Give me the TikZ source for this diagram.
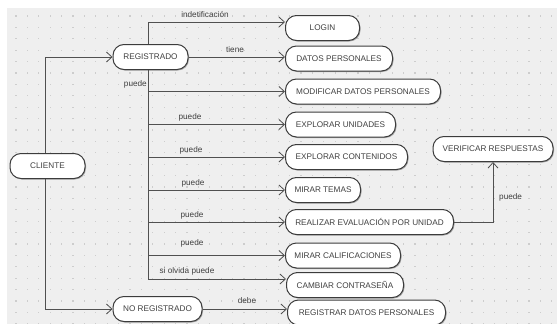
\documentclass[tikz,border=0pt]{standalone}
\usepackage{fontspec}
\setmainfont{Liberation Sans}
\usetikzlibrary{arrows.meta,shadows}
\definecolor{bgc}{HTML}{EFEFEF}
\definecolor{dotc}{HTML}{CDCDCD}
\definecolor{linec}{HTML}{505050}
\definecolor{boxc}{HTML}{3C3C3C}
\definecolor{txtc}{HTML}{404040}
\newcommand{\fs}{\fontsize{8.2}{9.5}\selectfont}
\tikzset{
  st/.style={draw=boxc, line width=1pt, fill=white, rounded corners=11pt,
    minimum height=25pt, inner xsep=6pt, inner ysep=0pt, font=\fs, text=txtc,
    drop shadow={shadow xshift=1pt, shadow yshift=-1pt, fill=black!45, opacity=0.7}},
  lbl/.style={font=\fs, text=txtc, inner sep=0pt},
  arr/.style={draw=linec, line width=0.8pt, -{Straight Barb[length=5.5pt,width=10pt,line width=0.8pt]}},
  ln/.style={draw=linec, line width=0.8pt}
}
\begin{document}
\begin{tikzpicture}[x=1pt,y=-1pt]
\useasboundingbox (0,0) rectangle (557,324);
\fill[white] (0,0) rectangle (557,324);
\fill[bgc] (7,8) rectangle (557,324);
\foreach \i in {0,...,47}{
  \foreach \j in {0,...,27}{
    \fill[dotc] ({16+11.4*\i-0.6},{16+11.4*\j-0.6}) rectangle ++(1.2,1.2);
  }
}
% nodes
\node[st, minimum width=75pt] (cli) at (47.5,166) {CLIENTE};
\node[st, minimum width=75pt] (reg) at (150.5,57) {REGISTRADO};
\node[st, minimum width=89pt] (noreg) at (157.5,309) {NO REGISTRADO};
\node[st, minimum width=74pt, anchor=west] (login) at (285,28) {LOGIN};
\node[st, minimum width=107pt, anchor=west] (datos) at (285,58.5) {DATOS PERSONALES};
\node[st, minimum width=155pt, anchor=west] (modif) at (285,91.5) {MODIFICAR DATOS PERSONALES};
\node[st, minimum width=110pt, anchor=west] (expu) at (285,124.5) {EXPLORAR UNIDADES};
\node[st, minimum width=122pt, anchor=west] (expc) at (285,157) {EXPLORAR CONTENIDOS};
\node[st, minimum width=75pt, anchor=west] (temas) at (285,190) {MIRAR TEMAS};
\node[st, minimum width=168pt, anchor=west] (real) at (285,222) {REALIZAR EVALUACIÓN POR UNIDAD};
\node[st, minimum width=115pt, anchor=west] (calif) at (285,255.5) {MIRAR CALIFICACIONES};
\node[st, minimum width=117pt, anchor=west] (camb) at (286,285) {CAMBIAR CONTRASEÑA};
\node[st, minimum width=158pt, anchor=west] (regis) at (287,312.5) {REGISTRAR DATOS PERSONALES};
\node[st, minimum width=120pt] (verif) at (493,149) {VERIFICAR RESPUESTAS};
% trunk coordinates
\coordinate (t0) at (148,22);
\coordinate (t1) at (148,279);
\coordinate (c0) at (45,166);
% connectors from CLIENTE
\draw[arr] (cli.north -| c0) |- (reg.west);
\draw[arr] (cli.south -| c0) |- (noreg.west);
% REGISTRADO trunk
\draw[arr] (reg.north -| t0) -- (t0) -- (login.west |- t0);
\draw[ln] (reg.south -| t0) -- (t1);
\draw[arr] (reg.east) -- (datos.west |- reg.east);
\draw[arr] (modif.west -| t0) -- (modif.west);
\draw[arr] (expu.west -| t0) -- (expu.west);
\draw[arr] (expc.west -| t0) -- (expc.west);
\draw[arr] (temas.west -| t0) -- (temas.west);
\draw[arr] (real.west -| t0) -- (real.west);
\draw[arr] (calif.west -| t0) -- (calif.west);
\draw[arr] (t1) -- (camb.west |- t1);
\draw[arr] (noreg.east) -- (regis.west |- noreg.east);
\draw[arr] (real.east) -| (verif.south);
% labels
\node[lbl] (lind) at (205,15) {indetificación};
\node[lbl] (ltiene) at (235,50) {tiene};
\node[lbl, anchor=east] (lp1) at (147,84) {puede};
\node[lbl] (lp2) at (190,117.5) {puede};
\node[lbl] (lp3) at (191,150.5) {puede};
\node[lbl] (lp4) at (193,183.5) {puede};
\node[lbl] (lp5) at (192,215) {puede};
\node[lbl] (lp6) at (192,243.5) {puede};
\node[lbl] (lsi) at (187,271) {si olvida puede};
\node[lbl] (ldebe) at (247,301) {debe};
\node[lbl, anchor=west] (lp7) at (499,197) {puede};
\end{tikzpicture}
\end{document}
